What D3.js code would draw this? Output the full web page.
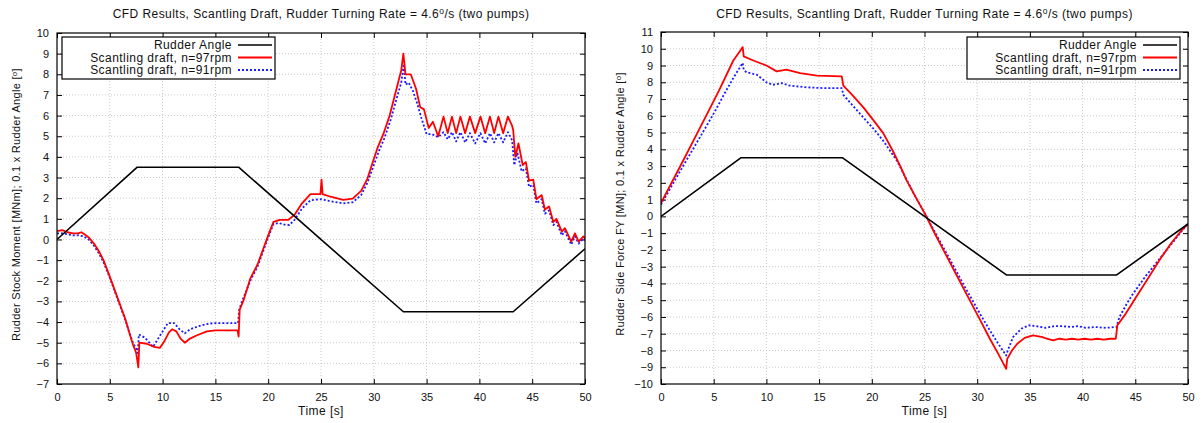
<!DOCTYPE html>
<html>
<head>
<meta charset="utf-8">
<script src="https://cdn.jsdelivr.net/npm/d3@7"></script>
<style>
  body { margin: 0; background: #fff; }
  svg { font-family: "Liberation Sans", Arial, sans-serif; }
  .grid line { stroke: #bbb; stroke-width: 0.8; stroke-dasharray: 1,2; }
</style>
</head>
<body>
<script>
// Data: [time (s), value]
var timeTicks = [0, 5, 10, 15, 20, 25, 30, 35, 40, 45, 50];
var momentTicks = d3.range(-7, 11);
var forceTicks = d3.range(-10, 12);

var rudderAngle = [[0, 0], [7.6, 3.5], [17.2, 3.5], [32.8, -3.5], [43.2, -3.5], [50, -0.45]];

var moment97 = [[0, 0.4], [0.5, 0.45], [1, 0.35], [1.5, 0.3], [2, 0.3], [2.3, 0.35], [2.6, 0.25], [3, 0.1], [3.5, -0.2],
  [4, -0.6], [4.4, -1.0], [5, -1.8], [5.5, -2.5], [6, -3.2], [6.5, -3.9], [6.9, -4.6], [7.2, -5.1], [7.5, -5.5],
  [7.7, -6.2], [7.8, -5.0], [8.5, -5.05], [9.2, -5.2], [9.75, -5.25], [10.2, -4.9], [10.6, -4.5], [10.9, -4.35],
  [11.3, -4.45], [11.7, -4.8], [12.1, -5.0], [12.6, -4.8], [13.2, -4.65], [14.2, -4.45], [15, -4.4], [16, -4.4],
  [17.1, -4.4], [17.2, -4.7], [17.3, -3.4], [17.7, -2.9], [18.3, -1.9], [19, -1.2], [19.5, -0.5], [20, 0.2],
  [20.5, 0.85], [21.1, 0.95], [21.9, 0.95], [22.5, 1.2], [23.2, 1.75], [24, 2.2], [24.95, 2.2], [25.05, 2.9],
  [25.15, 2.2], [25.9, 2.07], [27.1, 1.92], [28, 1.98], [28.8, 2.35], [29.4, 2.95], [30, 3.9], [30.4, 4.5],
  [30.9, 5.1], [31.5, 6.0], [32.2, 7.4], [32.6, 8.2], [32.8, 9.0], [33.0, 8.0], [33.5, 8.0], [34.0, 7.3],
  [34.4, 6.4], [34.75, 6.3], [35.2, 5.4], [35.6, 5.7], [36.1, 5.0], [36.6, 5.95], [37.0, 5.15], [37.4, 5.95],
  [37.8, 5.15], [38.2, 5.95], [38.65, 5.15], [39.1, 5.95], [39.6, 5.15], [40.1, 5.95], [40.55, 5.15], [41.0, 5.95],
  [41.4, 5.15], [41.8, 5.95], [42.25, 5.15], [42.7, 5.95], [43.1, 5.5], [43.2, 5.3], [43.4, 4.0], [43.7, 4.65],
  [44.1, 3.6], [44.4, 3.75], [44.7, 2.85], [45.1, 2.9], [45.4, 1.95], [45.9, 2.15], [46.2, 1.45], [46.6, 1.6],
  [47.0, 0.85], [47.3, 1.0], [47.8, 0.38], [48.1, 0.55], [48.7, -0.1], [49.05, 0.3], [49.4, -0.1], [49.85, 0.15], [50, 0.05]];

var moment91 = [[0, 0.3], [0.5, 0.3], [1, 0.25], [1.5, 0.2], [2, 0.2], [2.5, 0.15], [3, 0.0], [3.5, -0.3],
  [4, -0.7], [4.4, -1.1], [5, -1.85], [5.5, -2.55], [6, -3.25], [6.5, -3.95], [6.9, -4.6], [7.2, -5.0], [7.5, -5.3],
  [7.65, -5.5], [7.75, -4.6], [8.3, -4.75], [9.1, -5.2], [9.7, -4.7], [10.5, -4.05], [11.1, -4.05], [11.6, -4.35],
  [12.1, -4.55], [12.6, -4.35], [13.4, -4.2], [14.2, -4.1], [14.8, -4.05], [16, -4.05], [17.15, -4.05], [17.25, -3.4],
  [17.6, -2.9], [18.3, -2.0], [19, -1.3], [19.5, -0.6], [20, 0.1], [20.5, 0.75], [21, 0.8], [21.5, 0.72],
  [22, 0.7], [22.5, 0.95], [23.2, 1.5], [24, 1.9], [25, 1.95], [25.9, 1.85], [27.1, 1.75], [28, 1.8], [28.8, 2.15],
  [29.4, 2.75], [30, 3.6], [30.5, 4.3], [31, 4.9], [31.6, 5.8], [32.2, 6.9], [32.6, 7.6], [32.85, 8.5], [33.0, 7.5],
  [33.3, 7.6], [33.7, 7.2], [34.1, 6.6], [34.5, 5.9], [35.0, 5.1], [35.5, 5.1], [36.1, 4.95], [36.6, 5.2],
  [37.0, 4.85], [37.4, 5.2], [37.8, 4.75], [38.2, 5.2], [38.65, 4.7], [39.1, 5.15], [39.6, 4.65], [40.1, 5.15],
  [40.55, 4.65], [41.0, 5.15], [41.4, 4.7], [41.8, 5.15], [42.25, 4.7], [42.7, 5.2], [43.1, 4.8], [43.3, 3.6],
  [43.6, 4.2], [44.0, 3.3], [44.4, 3.45], [44.7, 2.55], [45.1, 2.65], [45.4, 1.75], [45.9, 1.95], [46.2, 1.25],
  [46.6, 1.4], [47.0, 0.7], [47.3, 0.85], [47.8, 0.2], [48.1, 0.4], [48.7, -0.25], [49.05, 0.15], [49.4, -0.2], [49.85, 0.05], [50, -0.05]];

var force97 = [[0, 0.8], [2, 3.2], [4, 5.65], [5.5, 7.5], [6.86, 9.3], [7.6, 9.95],
  [7.75, 10.1], [7.85, 9.55], [8.76, 9.3], [10.0, 9.0], [10.98, 8.65], [11.9, 8.75], [13.2, 8.55], [14.8, 8.4],
  [17.15, 8.35], [17.3, 7.8], [18.2, 7.2], [19.2, 6.5], [20.2, 5.7], [21.1, 4.95], [22, 3.9], [22.7, 3.0],
  [23.3, 2.15], [24.2, 1.1], [25.05, 0.15], [26, -1.05], [27, -2.25], [28, -3.45], [29, -4.65], [30.3, -6.2],
  [31.2, -7.3], [32.0, -8.2], [32.75, -9.1], [32.85, -8.5], [33.3, -8.0], [33.8, -7.6], [34.5, -7.25],
  [35.3, -7.1], [36.2, -7.2], [36.6, -7.3], [37.2, -7.4], [37.8, -7.3], [38.4, -7.35], [39, -7.3], [39.6, -7.35],
  [40.2, -7.3], [40.8, -7.35], [41.4, -7.3], [42, -7.35], [42.6, -7.3], [43.15, -7.3], [43.3, -6.5], [44.1, -5.8],
  [45.1, -4.8], [46.2, -3.7], [47.3, -2.6], [48.4, -1.6], [49.3, -0.9], [50, -0.45]];

var force91 = [[0, 0.7], [2, 2.9], [4, 5.05], [5.1, 6.25], [6, 7.3], [6.9, 8.3], [7.6, 9.0],
  [7.75, 9.15], [7.85, 8.75], [8.1, 8.6], [9.1, 8.45], [10.0, 8.0], [10.6, 7.85], [11.45, 7.95], [12.2, 7.8],
  [13.8, 7.7], [15.5, 7.65], [17.15, 7.65], [17.3, 7.25], [18.2, 6.6], [19.2, 5.9], [20.2, 5.2], [21.1, 4.5],
  [22.4, 3.3], [23.3, 2.2], [24.2, 1.1], [25.05, 0.15], [26, -0.95], [27, -2.1], [28, -3.25], [29, -4.4],
  [30.3, -5.85], [31.2, -6.8], [32.0, -7.6], [32.75, -8.3], [32.9, -8.0], [33.4, -7.2], [34.2, -6.7],
  [34.9, -6.5], [35.6, -6.55], [36.5, -6.65], [37.3, -6.55], [38.1, -6.55], [38.9, -6.6], [39.6, -6.55],
  [40.3, -6.65], [41.2, -6.6], [42.2, -6.65], [43.2, -6.6], [43.5, -6.0], [44.2, -5.2], [44.8, -4.6],
  [46.0, -3.55], [47.6, -2.3], [49, -1.2], [50, -0.4]];

var svg = d3.select('body').append('svg')
    .attr('width', 1202)
    .attr('height', 423);

var titleText = 'CFD Results, Scantling Draft, Rudder Turning Rate = 4.6';
var fs = 12, ls = 0.45;

function drawChart(opt) {
  var x = d3.scaleLinear().domain([0, 50]).range([opt.left, opt.right]);
  var y = d3.scaleLinear().domain(opt.yDomain).range([opt.bottom, opt.top]);
  var g = svg.append('g');

  // grid
  var grid = g.append('g').attr('class', 'grid');
  grid.selectAll('.gx').data(timeTicks.slice(1, -1)).enter().append('line')
      .attr('x1', function(d) { return x(d); }).attr('x2', function(d) { return x(d); })
      .attr('y1', opt.top).attr('y2', opt.bottom);
  grid.selectAll('.gy').data(opt.yTicks.slice(1, -1)).enter().append('line')
      .attr('y1', function(d) { return y(d); }).attr('y2', function(d) { return y(d); })
      .attr('x1', opt.left).attr('x2', opt.right);

  // axes with inward ticks, mirrored
  g.append('g')
      .attr('transform', 'translate(0,' + opt.bottom + ')')
      .call(d3.axisBottom(x).tickValues(timeTicks).tickSizeInner(-5).tickSizeOuter(0).tickPadding(9))
      .call(function(a) { a.select('.domain').remove(); });
  g.append('g')
      .attr('transform', 'translate(0,' + opt.top + ')')
      .call(d3.axisTop(x).tickValues(timeTicks).tickSizeInner(-5).tickSizeOuter(0).tickFormat(''))
      .call(function(a) { a.select('.domain').remove(); });
  g.append('g')
      .attr('transform', 'translate(' + opt.left + ',0)')
      .call(d3.axisLeft(y).tickValues(opt.yTicks).tickSizeInner(-5).tickSizeOuter(0).tickPadding(8)
        .tickFormat(function(d) { return d < 0 ? '\u2212' + (-d) : d; }))
      .call(function(a) { a.select('.domain').remove(); });
  g.append('g')
      .attr('transform', 'translate(' + opt.right + ',0)')
      .call(d3.axisRight(y).tickValues(opt.yTicks).tickSizeInner(-5).tickSizeOuter(0).tickFormat(''))
      .call(function(a) { a.select('.domain').remove(); });
  g.selectAll('.tick text').attr('font-size', 11).attr('fill', '#111').attr('font-family', '"Liberation Sans", Arial, sans-serif');
  g.selectAll('.tick line').attr('stroke', '#000');

  // lines
  var line = d3.line()
      .x(function(d) { return x(d[0]); })
      .y(function(d) { return y(d[1]); });
  var series = [
    { data: rudderAngle, color: '#000', width: 1.6, dash: null },
    { data: opt.red, color: '#ff0000', width: 1.8, dash: null },
    { data: opt.blue, color: '#1a1aff', width: 1.8, dash: '2,2' }
  ];
  var clipId = 'clip' + opt.left;
  g.append('clipPath').attr('id', clipId).append('rect')
      .attr('x', opt.left).attr('y', opt.top)
      .attr('width', opt.right - opt.left).attr('height', opt.bottom - opt.top);
  g.selectAll('.series').data(series.slice().reverse()).enter().append('path')
      .attr('clip-path', 'url(#' + clipId + ')')
      .attr('d', function(d) { return line(d.data); })
      .attr('fill', 'none')
      .attr('stroke', function(d) { return d.color; })
      .attr('stroke-width', function(d) { return d.width; })
      .attr('stroke-dasharray', function(d) { return d.dash; })
      .attr('stroke-linejoin', 'round');

  // frame
  g.append('rect')
      .attr('x', opt.left).attr('y', opt.top)
      .attr('width', opt.right - opt.left).attr('height', opt.bottom - opt.top)
      .attr('fill', 'none').attr('stroke', '#000').attr('stroke-width', 1.2);

  // title
  var t = g.append('text')
      .attr('x', (opt.left + opt.right) / 2).attr('y', 18)
      .attr('text-anchor', 'middle').attr('font-size', fs).attr('letter-spacing', ls).attr('fill', '#111')
      .text(titleText);
  t.append('tspan').attr('dy', -4).attr('font-size', 8.5).text('o');
  t.append('tspan').attr('dy', 4).text('/s (two pumps)');

  // axis labels
  g.append('text')
      .attr('x', (opt.left + opt.right) / 2).attr('y', 415)
      .attr('text-anchor', 'middle').attr('font-size', fs).attr('letter-spacing', ls).attr('fill', '#111')
      .text('Time [s]');
  var yl = g.append('text')
      .attr('transform', 'translate(' + (opt.left - 37) + ',' + ((opt.top + opt.bottom) / 2 - 4) + ') rotate(-90)')
      .attr('text-anchor', 'middle').attr('font-size', 11).attr('letter-spacing', 0.3).attr('fill', '#111')
      .text(opt.yLabel + ' [');
  yl.append('tspan').attr('dy', -3).attr('font-size', 8).text('o');
  yl.append('tspan').attr('dy', 3).text(']');

  // legend
  var names = ['Rudder Angle', 'Scantling draft, n=97rpm', 'Scantling draft, n=91rpm'];
  var lg = g.append('g').attr('transform', 'translate(' + opt.legendX + ',' + opt.legendY + ')');
  lg.append('rect').attr('x', 0).attr('y', 0).attr('width', 213).attr('height', 42)
      .attr('fill', '#fff').attr('stroke', '#000').attr('stroke-width', 1.2);
  names.forEach(function(n, i) {
    var yy = 8 + i * 12.5;
    lg.append('text').attr('x', 170).attr('y', yy + 4.2)
        .attr('text-anchor', 'end').attr('font-size', fs).attr('letter-spacing', ls).attr('fill', '#111').text(n);
    lg.append('line').attr('x1', 176).attr('x2', 210).attr('y1', yy).attr('y2', yy)
        .attr('stroke', series[i].color).attr('stroke-width', series[i].width)
        .attr('stroke-dasharray', series[i].dash);
  });
}

drawChart({
  left: 57, right: 585, top: 33, bottom: 384,
  yDomain: [-7, 10], yTicks: momentTicks,
  red: moment97, blue: moment91,
  yLabel: 'Rudder Stock Moment [MNm]; 0.1 x Rudder Angle',
  legendX: 62, legendY: 37
});

drawChart({
  left: 661, right: 1188, top: 32, bottom: 384,
  yDomain: [-10, 11], yTicks: forceTicks,
  red: force97, blue: force91,
  yLabel: 'Rudder Side Force FY [MN]; 0.1 x Rudder Angle',
  legendX: 967, legendY: 37
});
</script>
</body>
</html>
